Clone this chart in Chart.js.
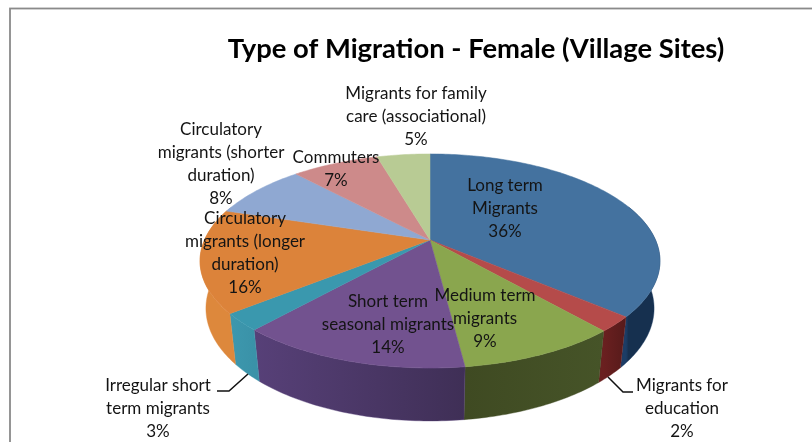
<!DOCTYPE html>
<html>
<head>
<meta charset="utf-8">
<style>html,body{margin:0;padding:0;background:#fff}canvas{display:block}</style>
<script src="https://cdn.jsdelivr.net/npm/chart.js@4"></script>
</head>
<body>
<canvas id="c" width="812" height="442"></canvas>
<script>
const titleText = 'Type of Migration - Female (Village Sites)';
const categories = ['Long term Migrants','Migrants for education','Medium term migrants','Short term seasonal migrants','Irregular short term migrants','Circulatory migrants (longer duration)','Circulatory migrants (shorter duration)','Commuters','Migrants for family care (associational)'];
const values = [36.3,2.3,9.4,13.6,2.6,15.6,8.3,7.4,4.5];
const labelLines = [['Long term','Migrants'],['Migrants for','education'],['Medium term','migrants'],['Short term','seasonal migrants'],['Irregular short','term migrants'],['Circulatory','migrants (longer','duration)'],['Circulatory','migrants (shorter','duration)'],['Commuters'],['Migrants for family','care (associational)']];
const topColors = ['#44729f','#b54b4a','#8aa64e','#72528f','#3a98ae','#dc833a','#8fa8d2','#cd8a8a','#b8cb94'];
const sideColors = [['#1c3d66','#16304f'],['#6a2020','#561a1a'],['#3f4a22','#465428'],['#574078','#3f2f56'],['#3d98ae','#3a92a8'],['#dd883c','#dd883c'],['#8fa8d2','#8fa8d2'],['#cd8a8a','#cd8a8a'],['#b8cb94','#b8cb94']];
const labelAnchors = [[505,186],[682,386],[485,296],[388,302],[158,386],[245,219],[221,130],[336,158],[416,94]];
const topFace = {x:430,y:240,a:225.5,b:102.9,k:-0.196};
const baseFace = {x:430,y:287,a:220,b:108.5,k:-0.19};
const leaders = [[[217,391],[229,391],[248,374]],[[608,377],[623,392],[633,392]]];
const labelFont = '17px Lato, Carlito, sans-serif';
const lineStep = 23;

function project(f,t){const d=1+f.k*Math.sin(t);return [f.x+f.a*Math.cos(t)/d,f.y+f.b*Math.sin(t)/d];}

const pie3d = {
  id:'pie3d',
  beforeDraw(chart){
    const g=chart.ctx;
    g.save();g.strokeStyle='#8a8a8a';g.lineWidth=1.8;
    g.strokeRect(10,8.5,830,460);
    g.restore();
  },
  beforeDatasetsDraw(chart){
    const g=chart.ctx, arcs=chart.getDatasetMeta(0).data;
    g.save();
    arcs.forEach((el,i)=>{
      const lo=Math.max(el.startAngle,-0.35), hi=Math.min(el.endAngle,Math.PI+0.35);
      if(hi<=lo) return;
      const n=Math.max(4,Math.ceil((hi-lo)*60));
      g.beginPath();
      for(let j=0;j<=n;j++){const p=project(topFace,lo+(hi-lo)*j/n);j?g.lineTo(p[0],p[1]):g.moveTo(p[0],p[1]);}
      for(let j=n;j>=0;j--){const p=project(baseFace,lo+(hi-lo)*j/n);g.lineTo(p[0],p[1]);}
      g.closePath();
      const pa=project(topFace,lo),pb=project(topFace,hi);
      const gr=g.createLinearGradient(Math.min(pa[0],pb[0]),0,Math.max(pa[0],pb[0])+0.01,0);
      const leftFirst=pa[0]<=pb[0];
      gr.addColorStop(0,sideColors[i][leftFirst?1:0]);
      gr.addColorStop(1,sideColors[i][leftFirst?0:1]);
      g.fillStyle=gr;g.strokeStyle=sideColors[i][0];g.lineWidth=0.4;
      g.fill();g.stroke();
    });
    arcs.forEach((el,i)=>{
      const n=Math.max(4,Math.ceil((el.endAngle-el.startAngle)*60));
      g.beginPath();g.moveTo(topFace.x,topFace.y);
      for(let j=0;j<=n;j++){const p=project(topFace,el.startAngle+(el.endAngle-el.startAngle)*j/n);g.lineTo(p[0],p[1]);}
      g.closePath();
      g.fillStyle=topColors[i];g.strokeStyle=topColors[i];g.lineWidth=0.5;
      g.fill();g.stroke();
    });
    g.restore();
    return false;
  },
  afterDraw(chart){
    const g=chart.ctx;
    g.save();
    g.strokeStyle='#111';g.lineWidth=1.5;
    leaders.forEach(l=>{g.beginPath();l.forEach((p,j)=>j?g.lineTo(p[0],p[1]):g.moveTo(p[0],p[1]));g.stroke();});
    g.fillStyle='#141414';g.font=labelFont;g.textAlign='center';g.textBaseline='middle';
    values.forEach((v,i)=>{
      const lines=[...labelLines[i],Math.round(v)+'%'];
      lines.forEach((t,j)=>g.fillText(t,labelAnchors[i][0],labelAnchors[i][1]+j*lineStep));
    });
    g.restore();
  }
};

new Chart(document.getElementById('c'),{
  type:'pie',
  data:{labels:categories,datasets:[{data:values,backgroundColor:topColors,borderWidth:0}]},
  options:{
    responsive:false,animation:false,events:[],
    layout:{padding:{left:140,top:28}},
    plugins:{
      legend:{display:false},tooltip:{enabled:false},
      title:{display:true,text:titleText,color:'#000',font:{family:'Lato, Carlito, sans-serif',size:27.4,weight:'bold'},padding:{top:5,bottom:10}}
    }
  },
  plugins:[pie3d]
});
</script>
</body>
</html>
